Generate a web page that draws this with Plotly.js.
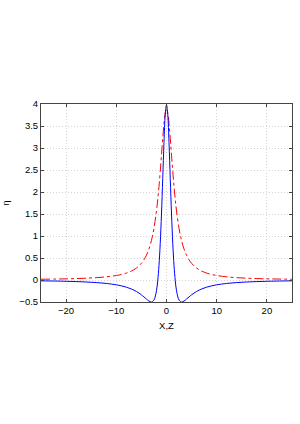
<!DOCTYPE html>
<html><head><meta charset="utf-8">
<script src="https://cdn.plot.ly/plotly-3.0.1.min.js"></script>
<style>html,body{margin:0;padding:0;background:#fff;}#chart{width:300px;height:424px;}</style>
</head><body><div id="chart"></div>
<script>
const xs = [-25,-22,-20,-18,-16,-14,-12,-10,-9,-8,-7,-6,-5,-4.5,-4,-3.5,-3,-2.5,-2,-1.75,-1.5,-1.25,-1,-0.75,-0.5,-0.25,0,
  0.25,0.5,0.75,1,1.25,1.5,1.75,2,2.5,3,3.5,4,4.5,5,6,7,8,9,10,12,14,16,18,20,22,25];
const blueHalf = [-0.019,-0.024,-0.029,-0.036,-0.045,-0.058,-0.078,-0.110,-0.133,-0.163,-0.204,-0.260,-0.337,-0.383,-0.432,-0.477,-0.500,-0.456,-0.245,-0.020,0.327,0.829,1.500,2.305,3.124,3.759];
const blueSeries = blueHalf.concat([3.98], blueHalf.slice().reverse());
const redHalf = [0.017,0.022,0.026,0.032,0.041,0.053,0.072,0.102,0.125,0.157,0.203,0.271,0.379,0.458,0.562,0.702,0.897,1.173,1.567,1.822,2.121,2.463,2.838,3.218,3.559,3.801];
const redSeries = redHalf.concat([3.889], redHalf.slice().reverse());
const yTicks = [-0.5,0,0.5,1,1.5,2,2.5,3,3.5,4];
const yTickText = ['\u22120.5','0','0.5','1','1.5','2','2.5','3','3.5','4'];
const xTicks = [-20,-10,0,10,20];
const xTickText = ['\u221220','\u221210','0','10','20'];

const font = {family:'"Liberation Sans", Arial, sans-serif', size:9.5, color:'#000'};
const axisCommon = {showline:true, linecolor:'#444', linewidth:1, mirror:'ticks', ticks:'inside', ticklen:3, tickcolor:'#444',
  showgrid:true, gridcolor:'#d4d4d4', griddash:'1px,2px', gridwidth:1, zeroline:false, tickfont:font};
const traces = [
  {x:xs, y:redSeries, mode:'lines', line:{color:'#ff0000', width:1, dash:'dashdot', shape:'spline'}, hoverinfo:'skip'},
  {x:xs, y:blueSeries, mode:'lines', line:{color:'#0000ff', width:1, shape:'spline'}, hoverinfo:'skip'}
];
const layout = {
  width:300, height:424, margin:{l:41, r:8, t:104, b:122},
  paper_bgcolor:'#fff', plot_bgcolor:'#fff', showlegend:false, font:font,
  xaxis: Object.assign({}, axisCommon, {range:[-25,25], tickvals:xTicks, ticktext:xTickText,
    title:{text:'X,Z', font:font, standoff:6}}),
  yaxis: Object.assign({}, axisCommon, {range:[-0.5,4], tickvals:yTicks, ticktext:yTickText,
    title:{text:'\u03b7', font:font, standoff:17}})
};
Plotly.newPlot('chart', traces, layout, {staticPlot:true, displayModeBar:false});
</script></body></html>
